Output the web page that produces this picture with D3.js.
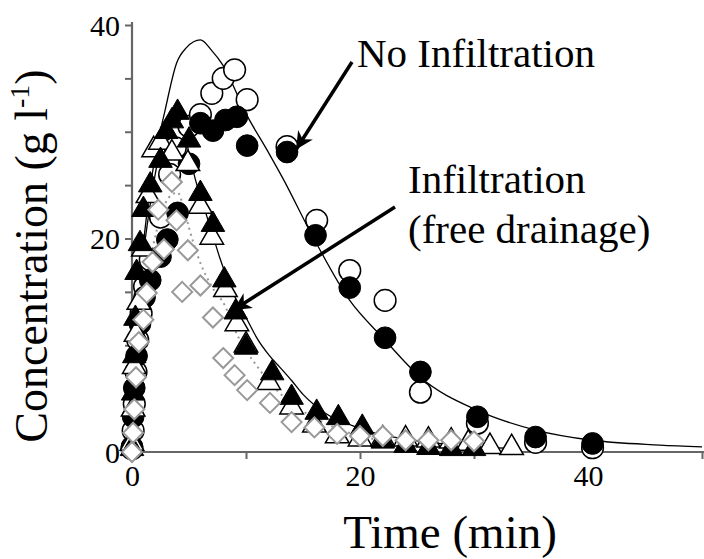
<!DOCTYPE html>
<html><head><meta charset="utf-8">
<script src="https://cdn.jsdelivr.net/npm/d3@7"></script>
<style>html,body{margin:0;padding:0;background:#fff;}svg{display:block;}</style>
</head><body>
<svg id="chart" width="704" height="559"></svg>
<script>
// ---- data (time in min, concentration in g/l) ----
const xTicks = [0, 10, 20, 30, 40, 50];
const xTickLabels = ["0", "", "20", "", "40", ""];
const yTicks = [0, 5, 10, 15, 20, 25, 30, 35, 40];
const yTickLabels = ["0", "", "", "", "20", "", "", "", "40"];

const openCircles = [[0,0.3],[0.1,2],[0.2,4.5],[0.35,7.5],[0.5,10.5],[0.8,13],[1.1,15.5],[1.6,18],[2.5,22],[3.3,26],[3.8,28.5],[5,30.5],[6,31.6],[7,33.6],[8,35.0],[9,35.8],[10.1,33.0],[13.6,28.6],[16.2,21.7],[19.1,17.0],[22.2,14.2],[25.3,5.6],[30.3,2.7],[35.4,0.9],[40.4,0.4]];
const filledCircles = [[0,0.5],[0.1,3.3],[0.2,6],[0.4,9],[0.7,12],[1.1,14.5],[1.6,16.1],[2.5,18.3],[3.1,19.9],[4,22.4],[5,27],[6,30.8],[7.1,30.1],[8.2,31.1],[9.2,31.4],[10.1,28.7],[13.6,28.1],[16.1,20.3],[19.1,15.4],[22.2,10.7],[25.3,7.5],[30.3,3.3],[35.4,1.4],[40.4,0.8]];
const openTriangles = [[0,0.8],[0.1,4],[0.2,8],[0.35,11],[0.6,14],[1,19],[1.4,24],[1.9,28.3],[2.5,29],[3.5,28],[4.9,27],[6,23],[7,20.1],[8.2,15.2],[9.2,12],[10,10],[12,6.5],[14,4.2],[16,2.5],[18,1.5],[20,1.2],[22,1.2],[24,1.2],[26,1.1],[28,1],[29.5,0.8],[31.4,0.5],[33.3,0.4]];
const filledTriangles = [[0,0.3],[0.1,5.5],[0.2,9],[0.3,12.5],[0.4,16.8],[0.7,19.5],[1.0,22.7],[1.6,25],[2.5,27.3],[3,30],[3.5,31],[4,31.8],[5,29.2],[6,24.2],[7.1,21.3],[8.1,16.1],[9.1,13.1],[10,9.8],[12.3,7.4],[14,5.1],[16.2,3.7],[18.1,3.2],[20.2,2.3],[22,1],[24,0.6],[26,0.4],[28,0.3],[30,0.3]];
const diamonds = [[0,0],[0.1,1.8],[0.2,4],[0.35,7],[0.6,10.3],[1,12.4],[1.3,14.9],[1.8,17.8],[2.3,22.7],[2.8,19],[3.5,25.3],[3.9,21.7],[4.4,15],[4.9,18.9],[6,15.6],[7.1,12.6],[8,8.8],[9,7.2],[10.1,5.8],[12.1,4.6],[14,2.8],[16,2.3],[18,1.7],[20,1.5],[22,1.5],[24,1.1],[26,1.1],[28,1.1],[30,1]];

const modelNoInfiltration = [[0,0],[0.2,7],[0.5,14],[1,19.5],[1.5,24],[2,27.5],[2.9,32],[3.9,36.4],[4.8,37.9],[6,38.6],[7,37.6],[8,36.2],[10,31.7],[12,28],[13.2,25.7],[15.9,20.1],[19.1,14.2],[22,10.7],[25.3,7],[30.3,3.9],[35.4,2.06],[40.4,1.1],[46.3,0.65],[50,0.47]];
const modelInfiltration = [[0,0],[0.2,7],[0.5,13],[1,18.5],[1.5,22.5],[2,25.8],[2.5,28.5],[3,30.5],[3.5,31.6],[4,31.8],[4.5,30.5],[5,28],[5.7,25],[6,24],[7,20.6],[7.7,18.2],[9,14.6],[10,12.6],[11,10.6],[12,9.1],[13,7.9],[14,6.7],[15,5.4],[16,4.4],[17,3.6],[18,3.0],[19,2.6],[20,2.2],[22,1.6],[24,1.2],[26,0.9],[28,0.7],[30,0.5],[33,0.35]];
const modelDotted = [[0,0],[0.3,6],[0.7,11],[1.2,15],[1.8,19],[2.5,22],[3.2,23.8],[4,24.3],[4.5,23],[5,21],[6,17.7],[7,15.5],[8.2,13.6],[9,11.5],[10,9.5],[11,8],[12,6.6],[13.6,4.9],[16,3.2],[18,2.2],[20,1.5],[24,0.8],[28,0.4]];

const labelNo = "No Infiltration";
const labelInf1 = "Infiltration";
const labelInf2 = "(free drainage)";

// ---- chart ----
const svg = d3.select("#chart");
const x = d3.scaleLinear().domain([0, 50]).range([132, 702]);
const y = d3.scaleLinear().domain([0, 40]).range([452, 25]);
const font = "'Liberation Serif','Times New Roman',serif";

// axes
const xAxis = d3.axisBottom(x).tickValues(xTicks).tickSize(7).tickFormat((d,i)=>xTickLabels[i]);
const yAxis = d3.axisLeft(y).tickValues(yTicks).tickSize(7).tickFormat((d,i)=>yTickLabels[i]);
const gx = svg.append("g").attr("transform", `translate(0,${y(0)})`).call(xAxis);
const gy = svg.append("g").attr("transform", `translate(${x(0)},0)`).call(yAxis);
[gx, gy].forEach(g => {
  g.select(".domain").attr("stroke", "#666").attr("stroke-width", 2.2);
  g.selectAll(".tick line").attr("stroke", "#666").attr("stroke-width", 2);
  g.selectAll(".tick text").attr("font-family", font).attr("font-size", 30).attr("fill", "#000");
});
gx.select(".domain").attr("d", `M${x(0)},0H704`);
gy.select(".domain").attr("d", `M0,${y(40)-3}V${y(0)}`);
gx.selectAll(".tick text").attr("dy", "0.78em").attr("y", 11);
gy.selectAll(".tick text").attr("x", -12).attr("dy", "0.34em");

// axis titles
svg.append("text").attr("x", 450).attr("y", 548).attr("text-anchor", "middle")
  .attr("font-family", font).attr("font-size", 47).text("Time (min)");
const yt = svg.append("text").attr("transform", "translate(47,256) rotate(-90)")
  .attr("text-anchor", "middle").attr("font-family", font).attr("font-size", 46);
yt.append("tspan").text("Concentration (g l");
yt.append("tspan").attr("font-size", 28).attr("dy", -18).text("-1");
yt.append("tspan").attr("dy", 18).text(")");

// model curves
const line = d3.line().x(d => x(d[0])).y(d => y(d[1])).curve(d3.curveMonotoneX);
svg.append("path").datum(modelDotted).attr("d", line).attr("fill", "none")
  .attr("stroke", "#999").attr("stroke-width", 2).attr("stroke-dasharray", "2,4");
svg.append("path").datum(modelNoInfiltration).attr("d", line).attr("fill", "none")
  .attr("stroke", "#000").attr("stroke-width", 1.3);
svg.append("path").datum(modelInfiltration).attr("d", line).attr("fill", "none")
  .attr("stroke", "#000").attr("stroke-width", 1.3);

// markers
const circ = d3.symbol().type(d3.symbolCircle).size(370);
const tri = d3.symbol().type(d3.symbolTriangle).size(240);
const diam = "M0,-10L10,0L0,10L-10,0Z";
function pts(data, path, fill, stroke, sw) {
  svg.append("g").selectAll("path").data(data).join("path")
    .attr("d", path)
    .attr("transform", d => `translate(${x(d[0])},${y(d[1])})`)
    .attr("fill", fill).attr("stroke", stroke).attr("stroke-width", sw);
}
pts(openCircles, circ(), "#fff", "#000", 1.5);
pts(filledCircles, circ(), "#000", "#000", 1);
pts(openTriangles, tri(), "#fff", "#000", 1.5);
pts(filledTriangles, tri(), "#000", "#000", 1);
pts(diamonds, diam, "#fff", "#999", 2);

// annotations
svg.append("defs").append("marker").attr("id", "ah").attr("viewBox", "0 0 10 10")
  .attr("refX", 9).attr("refY", 5).attr("markerWidth", 5).attr("markerHeight", 5)
  .attr("orient", "auto").attr("markerUnits", "strokeWidth")
  .append("path").attr("d", "M0,0L10,5L0,10L3,5Z").attr("fill", "#000");
svg.append("line").attr("x1", 352).attr("y1", 62).attr("x2", 297).attr("y2", 148)
  .attr("stroke", "#000").attr("stroke-width", 3.5).attr("marker-end", "url(#ah)");
svg.append("line").attr("x1", 395).attr("y1", 207).attr("x2", 235).attr("y2", 309)
  .attr("stroke", "#000").attr("stroke-width", 3.5).attr("marker-end", "url(#ah)");
svg.append("text").attr("x", 357).attr("y", 67).attr("font-family", font).attr("font-size", 41).text(labelNo);
svg.append("text").attr("x", 408).attr("y", 193).attr("font-family", font).attr("font-size", 41).text(labelInf1);
svg.append("text").attr("x", 408).attr("y", 243).attr("font-family", font).attr("font-size", 41).text(labelInf2);
</script>
</body></html>
